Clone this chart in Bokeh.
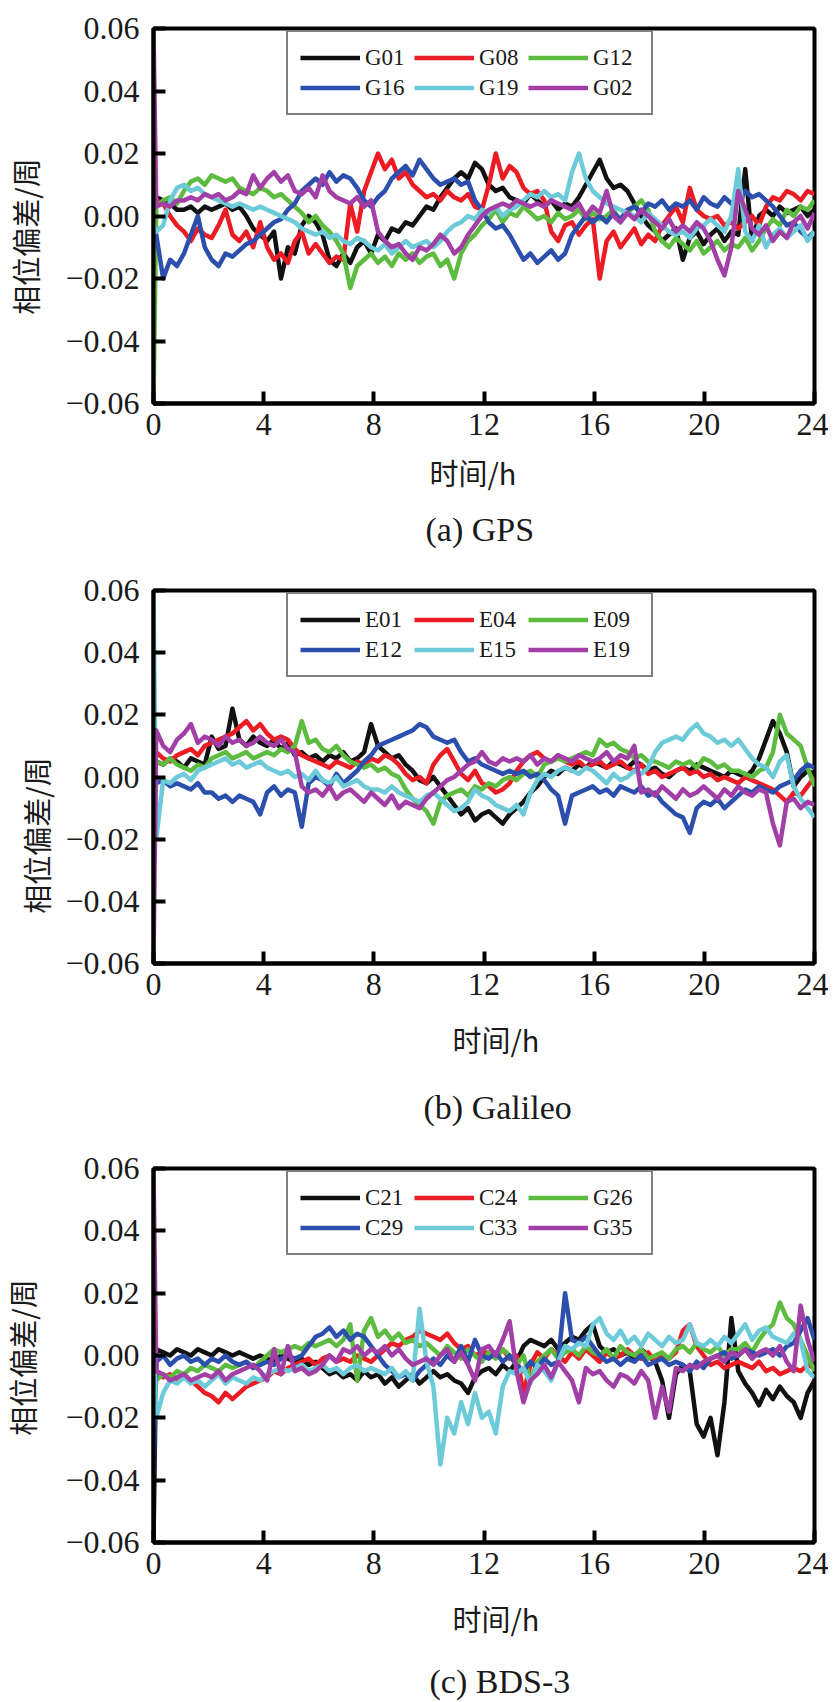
import numpy as np
from bokeh.plotting import figure
from bokeh.models import (FixedTicker, Legend, LegendItem, Title, Range1d,
                          CustomJSTickFormatter, Label)
from bokeh.layouts import column, row
from bokeh.embed import file_html
from bokeh.resources import INLINE

# ---------------- data (phase bias in 1e-3 cycles) ----------------
# time grid: t=0 followed by 96 samples from 0.1 h to 24 h (about 4 per hour)
hours = np.concatenate([[0.0], np.linspace(0.1, 24.0, 96)])

x_tick_vals = [0, 4, 8, 12, 16, 20, 24]
x_tick_labels = ["0", "4", "8", "12", "16", "20", "24"]
y_tick_vals = [-0.06, -0.04, -0.02, 0.0, 0.02, 0.04, 0.06]
y_tick_labels = ["\u22120.06", "\u22120.04", "\u22120.02", "0.00", "0.02", "0.04", "0.06"]

# (a) GPS
gps_names = ["G01", "G08", "G12", "G16", "G19", "G02"]
G01 = [5, 6, 5, 4, 2, 2, 3, 1, 3, 2, 3, 4, 2, 3, 0, -4, -6, -8, -5, -20, -10,
       -12, -3, 0, -2, -6, -14, -16, -12, -15, -10, -8, -12, -6, -8, -4, -5,
       -2, -3, 0, 3, 2, 6, 9, 12, 14, 12, 17, 15, 10, 8, 9, 6, 5, 4, 7, 5,
       3, 5, 2, 4, 3, 6, 10, 14, 18, 12, 9, 10, 8, 4, 0, -3, -5, -8, -6, -4,
       -14, -7, -5, -9, -6, -4, -8, -5, -6, 15, -8, 0, 2, 0, 3, 1, 2, 3, 0, 2]
G08 = [3, 5, 4, 0, -3, -5, -8, -4, -6, -7, -3, 2, -6, -8, -5, -10, -2, -10, -14, -12, -15,
       -8, -5, -12, -9, -12, -15, -13, -14, 4, -5, 8, 14, 20, 15, 18, 12, 14, 10, 8, 6,
       7, 5, 8, 6, 5, 7, 3, 2, 10, 20, 12, 16, 14, 9, 7, 8, 5, -5, -8, -3,
       -2, -6, -3, -1, -20, -8, -5, -10, -7, -4, -9, -6, -8, -3, 0, 3, -2, 9, 2, 0,
       -1, 0, -3, -2, -4, -2, 0, -3, 3, 6, 5, 8, 7, 5, 8, 7]
G12 = [-60, 3, 5, 6, 4, 8, 11, 12, 10, 13, 12, 11, 12, 9, 8, 7, 9, 8, 6, 7, 5,
       3, 1, -2, 0, -3, -5, -8, -12, -23, -16, -14, -12, -15, -13, -16, -12, -14, -12, -15, -13,
       -12, -16, -14, -20, -12, -8, -6, -3, -1, 2, -2, 1, 0, 3, 1, -1, 0, -2, 1, -1,
       0, 2, -1, 1, -1, 0, 2, -2, 1, 3, 5, 2, -5, -8, -10, -7, -9, -11, -8, -12,
       -10, -8, -11, -9, -10, -7, -11, -8, -4, -1, -3, 2, 0, 3, 2, 5]
G16 = [-8, -6, -20, -14, -16, -12, -6, 0, -10, -14, -16, -12, -13, -11, -9, -8, -6, -4, -2, -1, 2,
       4, 8, 10, 12, 10, 14, 11, 13, 12, 9, 5, 3, 6, 8, 12, 14, 16, 13, 18, 15,
       12, 10, 11, 12, 10, 11, 5, 2, -2, -4, -3, -6, -10, -14, -12, -15, -13, -11, -14, -12,
       -6, -3, 0, -2, 0, -2, 1, -1, 2, 3, 1, 4, 3, 5, 2, 4, 3, 5, 2, 6,
       4, 3, 6, 4, 5, 8, 6, 7, 5, 3, 0, -3, -2, -5, -7, -5]
G19 = [-3, -5, -3, 5, 9, 10, 8, 9, 7, 6, 5, 4, 3, 4, 3, 2, 3, 2, 1, 0, -1,
       -2, -4, -5, -6, -5, -7, -6, -8, -9, -7, -8, -10, -11, -9, -12, -10, -8, -10, -9, -8,
       -10, -8, -5, -3, -2, 0, -1, 2, 1, 3, 0, 2, 3, 5, 7, 6, 8, 6, 7, 5,
       14, 20, 12, 8, 6, 4, 3, 2, 1, 0, -2, 1, -1, -3, -5, -6, -5, -7, -4, -3,
       -1, -3, -5, 0, 15, -5, -8, -3, -10, -6, -4, -7, -5, -3, -8, -5]
G02 = [60, 3, 4, 3, 5, 5, 6, 5, 7, 6, 7, 5, 6, 8, 7, 13, 9, 12, 14, 11, 13,
       8, 7, 9, 6, 13, 8, 6, 5, 4, 6, 3, 5, -5, -8, -10, -9, -12, -14, -10, -11,
       -9, -6, -8, -12, -10, -6, -3, 0, 2, 3, 4, 3, 5, 4, 3, 4, 3, 5, 4, 3,
       2, 4, 0, 3, 1, 8, 0, -2, 1, -1, 2, 0, -2, -4, -1, -5, -3, -5, -2, -4,
       -8, -14, -19, -10, 8, 2, -4, -6, -3, -8, -5, -7, -2, 0, -4, 1]

# (b) Galileo
gal_names = ["E01", "E04", "E09", "E12", "E15", "E19"]
E01 = [6, 5, 4, 6, 5, 3, 6, 5, 4, 13, 9, 10, 22, 12, 10, 13, 11, 10, 12, 9, 11,
       7, 8, 6, 7, 5, 7, 6, 8, 5, 6, 8, 17, 10, 8, 6, 7, 4, 2, -1, -2,
       0, -3, -6, -9, -12, -10, -14, -12, -11, -13, -15, -12, -10, -8, -5, -3, 0, 2, 1, 3,
       2, 4, 3, 5, 4, 3, 5, 4, 3, 5, 4, 2, 3, 1, 0, 2, 3, 2, 4, 3,
       2, 1, 0, 2, 1, 0, 2, 6, 12, 18, 14, 8, -3, 0, 2, 1]
E04 = [10, 8, 6, 5, 7, 8, 9, 7, 10, 11, 12, 13, 14, 16, 18, 15, 17, 14, 12, 13, 12,
       9, 7, 6, 5, 4, 3, 5, 4, 3, 5, 4, 6, 5, 7, 6, 4, 1, -1, 0, -2,
       4, 7, 9, 5, 1, -1, 2, -2, -3, -5, -4, -2, 2, 5, 7, 8, 6, 5, 7, 5,
       4, 5, 3, 4, 5, 3, 4, 5, 3, 2, 4, 1, 2, 0, 1, 2, 3, 1, 2, 0,
       1, -1, 0, -1, -2, 0, -1, -2, -3, -4, -6, -8, -5, -6, -3, 0]
E09 = [4, 5, 4, 6, 4, 3, 2, 4, 3, 6, 7, 8, 6, 7, 8, 6, 7, 8, 7, 9, 8,
       10, 18, 11, 12, 9, 8, 10, 7, 5, 4, 3, 4, 2, 3, 1, 0, -4, -7, -9, -11,
       -15, -8, -6, -5, -4, -6, -3, -4, -2, -3, -1, 0, -1, 1, 2, 0, 4, 5, 6, 5,
       6, 7, 8, 7, 12, 10, 11, 9, 8, 6, 7, 5, 5, 4, 3, 5, 4, 5, 3, 6,
       5, 3, 4, 2, 2, 1, 0, 2, 3, 8, 20, 14, 12, 10, 3, -3]
E12 = [2, -2, -1, -3, -2, -3, -4, -2, -5, -5, -7, -6, -8, -6, -7, -8, -12, -5, -3, -6, -4,
       -5, -16, -2, 0, -1, -3, 1, -2, 0, 2, 5, 7, 10, 11, 12, 13, 14, 15, 17, 16,
       13, 12, 11, 12, 8, 5, 6, 4, 3, 2, 1, 2, 1, 2, 0, 1, -1, -4, -6, -15,
       -6, -5, -4, -3, -5, -4, -6, -3, -4, -5, -3, -6, -5, -8, -10, -12, -13, -18, -10, -8,
       -9, -7, -10, -8, -6, -4, -5, -3, -4, -5, -3, -2, -1, 2, 4, 3]
E15 = [60, -20, -1, -2, 0, 1, -1, 2, 3, 4, 5, 6, 4, 5, 3, 4, 5, 3, 2, 1, 2,
       0, 1, -1, 2, -1, -2, 0, -3, -2, -1, -3, -4, -4, -5, -3, -5, -6, -7, -8, -6,
       -5, -7, -9, -11, -10, -8, -4, -6, -7, -9, -10, -11, -9, -12, -5, -1, 1, 0, 2, 3,
       2, 1, 3, 2, 0, -2, 1, -1, 0, 2, 1, 3, 8, 11, 12, 13, 12, 15, 17, 14,
       13, 11, 12, 10, 12, 9, 6, 4, 3, 0, 5, 7, -3, -7, -10, -13]
E19 = [-60, 15, 10, 8, 12, 14, 17, 11, 13, 12, 10, 13, 11, 12, 10, 11, 13, 11, 10, 12, 9,
       8, -3, -5, -4, -6, -3, -7, -5, -4, -6, -8, -5, -7, -9, -6, -10, -8, -9, -10, -7,
       -5, -3, -1, 0, 2, 4, 5, 8, 5, 4, 6, 5, 6, 5, 7, 4, 6, 5, 7, 6,
       5, 7, 6, 5, 6, 8, 5, 7, 6, 10, -5, -4, -6, -3, -5, -7, -4, -6, -5, -3,
       -5, -7, -4, -6, -3, -5, -6, -4, -5, -15, -22, -8, -7, -10, -8, -9]

# (c) BDS-3
bds_names = ["C21", "C24", "G26", "C29", "C33", "G35"]
C21 = [-60, 2, 1, 0, 2, 1, 0, 2, 1, 0, 2, 1, 0, 1, 0, -1, 0, -1, -2, 0, -1,
       -2, -1, -3, -2, -4, -6, -5, -7, -6, -8, -5, -7, -6, -9, -7, -10, -8, -6, -9, -7,
       -5, -7, -6, -8, -9, -12, -7, -5, -4, -6, -3, -5, -2, 3, 5, 4, 3, 5, 2, 4,
       6, 5, 8, 10, 3, 1, 2, 0, 1, -1, 2, 0, -2, -8, -20, -6, -3, -5, -22, -26,
       -20, -32, -15, 12, -5, -9, -12, -16, -11, -14, -10, -13, -15, -20, -12, -8]
C24 = [-3, -5, -7, -6, -8, -7, -8, -10, -12, -13, -15, -12, -14, -12, -10, -9, -8, -7, -5, -6, -4,
       -3, -2, -1, -3, -1, 0, -2, -1, -2, 0, -1, -2, 0, 2, 4, 3, 5, 6, 8, 7,
       6, 5, 7, 4, 2, 3, 0, 1, 1, 0, 2, -1, 0, -12, -3, 1, -1, 2, 0, -2,
       1, -1, 2, 0, -2, 1, -1, 0, 2, 0, -1, 1, -2, 0, -1, 1, 8, 10, 3, 0,
       -3, -2, -4, -3, -2, -3, -4, -2, -5, -4, -6, -5, -4, -5, -3, -4]
G26 = [-12, -8, -6, -7, -5, -6, -4, -5, -3, -4, -5, -3, -4, -3, -2, -4, -2, 0, 2, 1, 2,
       3, 2, 4, 3, 4, 5, 3, 5, 10, -8, 8, 12, 6, 8, 5, 7, 4, 5, 3, 4,
       2, 0, 3, 1, -1, 2, 0, -2, 1, -1, 2, 0, -3, 0, -8, -2, 0, 2, -1, 1,
       2, 0, 3, 1, 0, 2, -1, 3, 1, 0, 2, -1, 0, 1, -1, 2, 3, 1, 4, 2,
       1, 3, 0, 2, 2, 4, 1, 5, 8, 10, 17, 12, 10, 5, 0, -5]
C29 = [-38, -2, 0, -3, -1, 0, -2, -1, -3, -1, -2, 0, -2, -3, -2, -4, -3, -2, -3, -1, 0,
       -1, 0, 3, 6, 7, 9, 6, 8, 5, 7, 6, 3, 0, -3, -5, -7, -6, -8, -5, -3,
       -1, -3, 0, -2, 3, -2, 5, 0, -1, 1, -2, 0, -3, -5, -2, -4, -1, -3, -2, 20,
       5, 4, 6, 3, 0, -2, -1, -3, -1, -2, 0, -3, -2, -1, -3, -2, -3, -5, -2, -4,
       -1, 0, 1, -1, 0, 2, 1, 0, 1, 2, 0, 3, 4, 8, 12, 5]
C33 = [14, -20, -12, -8, -9, -7, -9, -8, -10, -8, -6, -9, -7, -8, -9, -7, -8, -6, -5, -4, -5,
       -4, -3, -5, -4, -3, -5, -4, -6, -4, -3, -5, -4, -5, -6, -4, -7, -5, -8, 15, -2,
       -10, -35, -20, -25, -15, -22, -12, -20, -18, -25, -10, -5, -6, -4, -9, -3, -5, -8, -2, 3,
       2, 4, 3, 10, 12, 7, 5, 8, 4, 6, 3, 7, 5, 3, 6, 4, 5, 10, 4, 3,
       5, 3, 6, 4, 7, 10, 5, 8, 9, 6, 5, 4, 7, 5, -5, -7]
G35 = [60, -5, -6, -8, -7, -6, -8, -7, -6, -7, -5, -8, -6, -5, -4, -3, -5, -8, 2, -6, 3,
       -5, -4, -6, -5, -3, 0, -2, 2, 1, 3, 0, 2, 1, 3, 0, 2, -1, -3, -2, -1,
       -3, 0, 2, -2, 1, -3, -8, 2, 3, 0, 5, 11, -5, -15, -8, -6, -3, -7, -2, -5,
       -8, -15, -4, -6, -5, -8, -10, -6, -7, -9, -5, -8, -20, -10, -18, -4, -5, -3, -4, -2,
       -1, 0, -2, 1, 0, 2, -1, 1, 2, 0, 3, -2, -5, 16, 5, -2]

colors = ["#111111", "#ec1c24", "#5dbb3f", "#2c4fae", "#6dcbd9", "#a23fa6"]

CJK = "Noto Sans CJK SC"
SERIF = "Liberation Serif"
TXT = "#1a1a1a"
LAB_W = 62          # width of the strip that carries the rotated y label

LABEL_CODE = """
const i = vals.findIndex(v => Math.abs(v - tick) < 1e-9);
return i >= 0 ? labels[i] : String(tick);
"""


def make_panel(series, names, caption, fh, mt, mb, ylab_x, ylab_y,
               xlab_off, xlab_std, cap_off, cap_std):
    p = figure(frame_width=661, frame_height=fh,
               x_range=Range1d(0, 24), y_range=Range1d(-0.06, 0.06),
               output_backend="svg", toolbar_location=None,
               min_border_left=152 - LAB_W, min_border_right=14,
               min_border_top=mt, min_border_bottom=mb)
    p.xgrid.visible = False
    p.ygrid.visible = False
    p.outline_line_color = "black"
    p.outline_line_width = 4
    p.background_fill_color = "white"
    p.border_fill_color = "white"

    renderers = []
    for vals, col in zip(series, colors):
        y = np.array(vals, dtype=float) / 1000.0
        r = p.line(hours[:len(y)], y, line_color=col, line_width=4.5, line_join="round")
        renderers.append(r)

    p.xaxis.ticker = FixedTicker(ticks=x_tick_vals)
    p.xaxis.formatter = CustomJSTickFormatter(
        args=dict(vals=x_tick_vals, labels=x_tick_labels), code=LABEL_CODE)
    p.yaxis.ticker = FixedTicker(ticks=y_tick_vals)
    p.yaxis.formatter = CustomJSTickFormatter(
        args=dict(vals=y_tick_vals, labels=y_tick_labels), code=LABEL_CODE)
    for axes in (p.xaxis, p.yaxis):
        axes.axis_line_width = 4
        axes.axis_line_color = "black"
        axes.major_tick_in = 12
        axes.major_tick_out = 0
        axes.major_tick_line_width = 4
        axes.major_tick_line_color = "black"
        axes.minor_tick_line_color = None
        axes.major_label_text_font = SERIF
        axes.major_label_text_font_size = "32px"
        axes.major_label_text_color = TXT
    p.xaxis.major_label_standoff = 10
    p.yaxis.major_label_standoff = 14

    items = [LegendItem(label=n, renderers=[r]) for n, r in zip(names, renderers)]
    leg = Legend(items=items, orientation="horizontal", ncols=3,
                 location=(133, fh - 9 - 78), margin=0,
                 label_text_font=SERIF, label_text_font_size="23px",
                 label_text_color=TXT,
                 glyph_width=60, glyph_height=27, label_height=27, label_width=46,
                 label_standoff=5, spacing=3, padding=12,
                 border_line_color="black", border_line_width=2.5,
                 background_fill_color="white", background_fill_alpha=1.0)
    p.add_layout(leg)

    p.add_layout(Title(text="时间/h", text_font=CJK, text_font_size="29px",
                       text_font_style="normal", text_color=TXT,
                       align="left", offset=xlab_off, standoff=xlab_std), "below")
    p.add_layout(Title(text=caption, text_font=SERIF, text_font_size="34px",
                       text_font_style="normal", text_color=TXT,
                       align="left", offset=cap_off, standoff=cap_std), "below")

    # narrow strip on the left holding the rotated y-axis title
    lab = figure(frame_width=LAB_W, frame_height=fh,
                 x_range=Range1d(0, LAB_W), y_range=Range1d(0, fh),
                 x_axis_type=None, y_axis_type=None,
                 output_backend="svg", toolbar_location=None,
                 min_border_left=0, min_border_right=0,
                 min_border_top=mt, min_border_bottom=mb)
    lab.outline_line_color = None
    lab.background_fill_color = "white"
    lab.border_fill_color = "white"
    lab.add_layout(Label(x=ylab_x, y=ylab_y, text="相位偏差/周", angle=np.pi / 2,
                         text_align="center", text_baseline="middle",
                         text_font=CJK, text_font_size="29px", text_color=TXT))
    return row(lab, p, spacing=0)


pa = make_panel([G01, G08, G12, G16, G19, G02], gps_names, "(a) GPS",
                375, 28, 167, 24, 167, 276, 23, 272, 9)
pb = make_panel([E01, E04, E09, E12, E15, E19], gal_names, "(b) Galileo",
                373, 20, 185, 35, 128, 299, 37, 270, 17)
pc = make_panel([C21, C24, G26, C29, C33, G35], bds_names, "(c) BDS-3",
                374, 20, 158, 21, 185, 299, 36, 276, 9)

layout = column(pa, pb, pc, spacing=0)
open("out.html", "w").write(file_html(layout, INLINE))
